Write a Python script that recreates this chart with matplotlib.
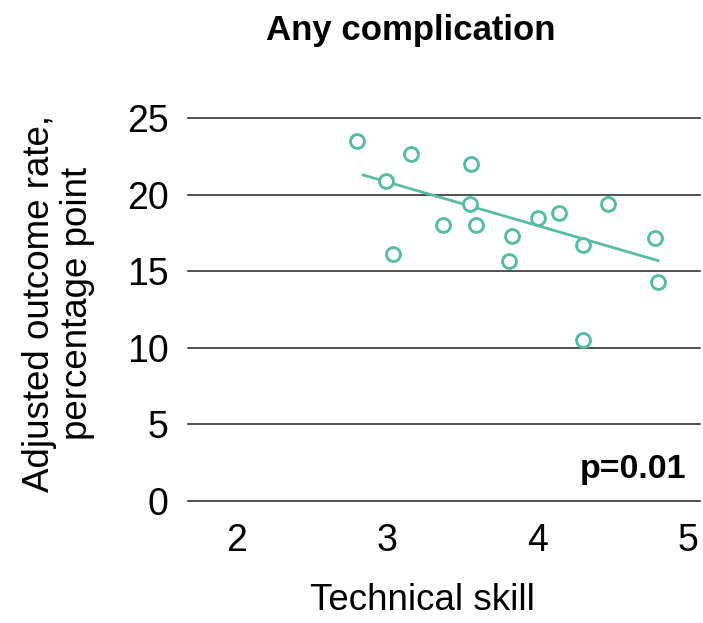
import matplotlib
matplotlib.use("Agg")
import matplotlib.pyplot as plt

plt.rcParams["font.family"] = ["Liberation Sans", "DejaVu Sans"]

# per-surgeon technical skill vs adjusted complication rate
skill = [2.80, 3.16, 3.56, 2.99, 3.04, 3.55, 3.37, 3.59, 3.83, 3.81,
         4.00, 4.14, 4.47, 4.30, 4.30, 4.78, 4.80]
rate = [23.5, 22.7, 22.0, 20.9, 16.1, 19.4, 18.0, 18.0, 17.3, 15.7,
        18.5, 18.8, 19.4, 16.7, 10.5, 17.2, 14.3]

# fitted trend endpoints
trend_x = [2.84, 4.80]
trend_y = [21.3, 15.7]

y_ticks = [0, 5, 10, 15, 20, 25]
x_ticks = [2, 3, 4, 5]
p_label = "p=0.01"

teal = "#57bba6"

fig = plt.figure(figsize=(7.03, 6.23), dpi=100)
ax = fig.add_axes([0.2674, 0.1963, 0.728, 0.6137])

for y in y_ticks:
    ax.axhline(y, color="#222222", lw=1.1, clip_on=False, zorder=1)

ax.plot(trend_x, trend_y, color=teal, lw=2.0, zorder=2)
ax.scatter(skill, rate, s=100, facecolors="white", edgecolors=teal,
           linewidths=2.1, zorder=3)

ax.set_xlim(1.676, 5.078)
ax.set_ylim(0, 25)
ax.set_xticks(x_ticks)
ax.set_yticks(y_ticks)
ax.tick_params(length=0, labelsize=27, colors="black")
ax.tick_params(axis="y", pad=14)
ax.tick_params(axis="x", pad=16)
for s in ax.spines.values():
    s.set_visible(False)

fig.text(0.601, 0.021, "Technical skill", fontsize=26.5,
         ha="center", va="baseline")
fig.text(0.0832, 0.5136, "Adjusted outcome rate,\npercentage point",
         fontsize=26.5, rotation=90, ha="center", va="center",
         multialignment="center", linespacing=1.1)
fig.text(0.5846, 0.9358, "Any complication", fontsize=25,
         fontweight="bold", ha="center", va="baseline")

ax.text(4.99, 1.5, p_label, fontsize=24.5, fontweight="bold",
        ha="right", va="baseline")

fig.savefig("out.png", dpi=100)
